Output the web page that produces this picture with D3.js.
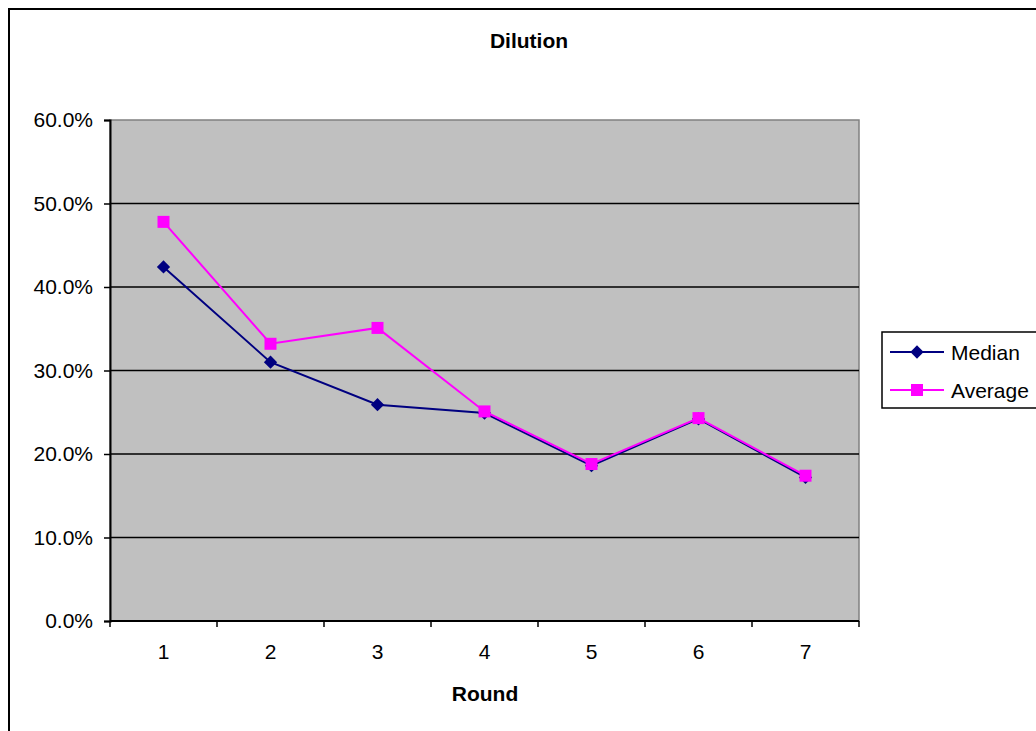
<!DOCTYPE html>
<html>
<head>
<meta charset="utf-8">
<script src="https://cdn.jsdelivr.net/npm/d3@7"></script>
<style>
  html, body { margin: 0; padding: 0; background: #fff; }
  svg { display: block; font-family: Arial, "Liberation Sans", sans-serif; }
</style>
</head>
<body>
<svg id="chart" width="1036" height="731"></svg>
<script>
// Dilution per funding round
const rounds = ["1", "2", "3", "4", "5", "6", "7"];
const medianValues = [42.4, 31.0, 25.9, 24.9, 18.6, 24.2, 17.2];
const averageValues = [47.8, 33.2, 35.1, 25.1, 18.8, 24.3, 17.4];
const yTicks = [0, 10, 20, 30, 40, 50, 60];
const seriesNames = ["Median", "Average"];

const svg = d3.select("#chart");
const plot = { left: 110, top: 120, right: 859, bottom: 621 };

// Outer chart frame
svg.append("rect")
  .attr("x", 9).attr("y", 9)
  .attr("width", 1040).attr("height", 740)
  .attr("fill", "#fff").attr("stroke", "#000").attr("stroke-width", 2);

const x = d3.scaleBand().domain(rounds).range([plot.left, plot.right]).padding(0);
const y = d3.scaleLinear().domain([0, 60]).range([plot.bottom, plot.top]);

// Plot background
svg.append("rect")
  .attr("x", plot.left).attr("y", plot.top)
  .attr("width", plot.right - plot.left).attr("height", plot.bottom - plot.top)
  .attr("fill", "#c0c0c0").attr("stroke", "#808080").attr("stroke-width", 1.5);

// Horizontal gridlines
svg.append("g").selectAll("line")
  .data(yTicks.filter(d => d > 0 && d < 60))
  .join("line")
  .attr("x1", plot.left).attr("x2", plot.right)
  .attr("y1", d => y(d)).attr("y2", d => y(d))
  .attr("stroke", "#000").attr("stroke-width", 1.6);

// Y axis
const yAxis = svg.append("g")
  .attr("transform", `translate(${plot.left},0)`)
  .call(d3.axisLeft(y).tickValues(yTicks).tickSize(6).tickPadding(11)
    .tickFormat(d => d.toFixed(1) + "%"));
yAxis.select(".domain").attr("stroke", "#000").attr("stroke-width", 2);
yAxis.selectAll(".tick line").attr("stroke", "#000").attr("stroke-width", 1.5);
yAxis.selectAll(".tick text").attr("font-size", 21).attr("fill", "#000")
  .attr("font-family", "Arial, 'Liberation Sans', sans-serif");

// X axis: ticks between categories, labels centred
const xAxisG = svg.append("g").attr("transform", `translate(0,${plot.bottom})`);
xAxisG.append("line")
  .attr("x1", plot.left).attr("x2", plot.right)
  .attr("y1", 0).attr("y2", 0)
  .attr("stroke", "#000").attr("stroke-width", 2);
const boundaries = rounds.map(r => x(r)).concat([x(rounds[rounds.length - 1]) + x.bandwidth()]);
xAxisG.selectAll("line.tick")
  .data(boundaries)
  .join("line").attr("class", "tick")
  .attr("x1", d => d).attr("x2", d => d)
  .attr("y1", 0).attr("y2", 6)
  .attr("stroke", "#000").attr("stroke-width", 1.5);
xAxisG.selectAll("text")
  .data(rounds)
  .join("text")
  .attr("x", d => x(d) + x.bandwidth() / 2)
  .attr("y", 38)
  .attr("text-anchor", "middle")
  .attr("font-size", 21)
  .attr("fill", "#000")
  .text(d => d);

// Titles
svg.append("text")
  .attr("x", 529).attr("y", 48)
  .attr("text-anchor", "middle")
  .attr("font-size", 21).attr("font-weight", "bold")
  .text("Dilution");
svg.append("text")
  .attr("x", 485).attr("y", 701)
  .attr("text-anchor", "middle")
  .attr("font-size", 21).attr("font-weight", "bold")
  .text("Round");

const cx = (d, i) => x(rounds[i]) + x.bandwidth() / 2;
const line = d3.line().x((d, i) => cx(d, i)).y(d => y(d));

const diamondPath = d3.symbol().type(d3.symbolSquare).size(88);
const squareSize = 12;

// Median series
svg.append("path")
  .datum(medianValues)
  .attr("d", line)
  .attr("fill", "none").attr("stroke", "#000080").attr("stroke-width", 2);
svg.append("g").selectAll("path")
  .data(medianValues)
  .join("path")
  .attr("transform", (d, i) => `translate(${cx(d, i)},${y(d)}) rotate(45)`)
  .attr("d", diamondPath)
  .attr("fill", "#000080");

// Average series
svg.append("path")
  .datum(averageValues)
  .attr("d", line)
  .attr("fill", "none").attr("stroke", "#ff00ff").attr("stroke-width", 2);
svg.append("g").selectAll("rect")
  .data(averageValues)
  .join("rect")
  .attr("x", (d, i) => cx(d, i) - squareSize / 2)
  .attr("y", d => y(d) - squareSize / 2)
  .attr("width", squareSize).attr("height", squareSize)
  .attr("fill", "#ff00ff");

// Legend
const legend = svg.append("g");
legend.append("rect")
  .attr("x", 882).attr("y", 332)
  .attr("width", 200).attr("height", 76)
  .attr("fill", "#fff").attr("stroke", "#000").attr("stroke-width", 1.5);
const legendRows = [
  { name: seriesNames[0], color: "#000080", y: 352, marker: "diamond" },
  { name: seriesNames[1], color: "#ff00ff", y: 390, marker: "square" }
];
legendRows.forEach(r => {
  legend.append("line")
    .attr("x1", 890).attr("x2", 944)
    .attr("y1", r.y).attr("y2", r.y)
    .attr("stroke", r.color).attr("stroke-width", 2);
  if (r.marker === "diamond") {
    legend.append("path")
      .attr("transform", `translate(917,${r.y}) rotate(45)`)
      .attr("d", diamondPath)
      .attr("fill", r.color);
  } else {
    legend.append("rect")
      .attr("x", 917 - squareSize / 2).attr("y", r.y - squareSize / 2)
      .attr("width", squareSize).attr("height", squareSize)
      .attr("fill", r.color);
  }
  legend.append("text")
    .attr("x", 951).attr("y", r.y + 7.5)
    .attr("font-size", 21).attr("fill", "#000")
    .text(r.name);
});
</script>
</body>
</html>
